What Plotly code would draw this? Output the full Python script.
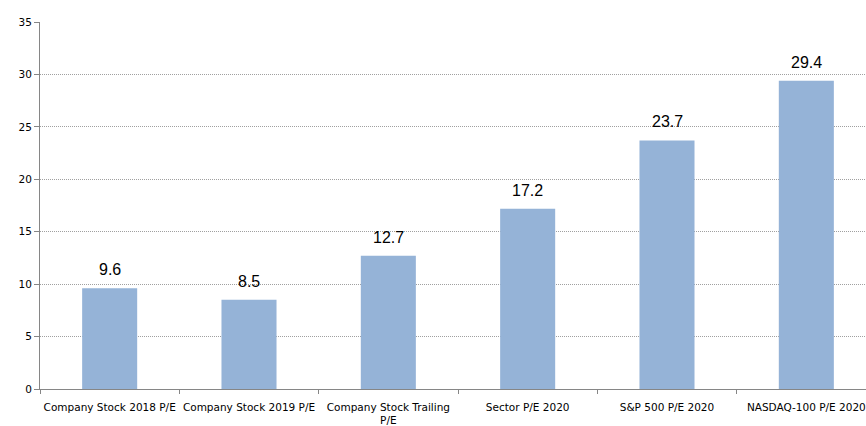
import plotly.graph_objects as go

categories = ["Company Stock 2018 P/E", "Company Stock 2019 P/E", "Company Stock Trailing<br>P/E",
              "Sector P/E 2020", "S&P 500 P/E 2020", "NASDAQ-100 P/E 2020"]
values = [9.6, 8.5, 12.7, 17.2, 23.7, 29.4]
value_labels = ["9.6", "8.5", "12.7", "17.2", "23.7", "29.4"]
y_ticks = [0, 5, 10, 15, 20, 25, 30, 35]

fig = go.Figure(go.Bar(
    x=categories, y=values,
    marker=dict(color="#95B3D7", line=dict(width=0)),
    width=0.395,
))

for c, v, t in zip(categories, values, value_labels):
    fig.add_annotation(x=c, y=v, text=t, showarrow=False, yanchor="bottom", yshift=8,
                       font=dict(size=16, color="#000000", family="Liberation Sans"))

fig.update_layout(
    width=866, height=426,
    margin=dict(l=40, r=0, t=22, b=37, autoexpand=False),
    paper_bgcolor="white", plot_bgcolor="white",
    showlegend=False,
    font=dict(family="DejaVu Sans", size=10, color="#000000"),
)
fig.update_xaxes(
    range=[-0.5, 5.5 - 10 / 139.4], automargin=False,
    showline=True, linecolor="#868686", linewidth=1,
    ticks="outside", tickson="boundaries", ticklen=4, tickcolor="#868686",
    tickfont=dict(size=10.5, color="#000000", family="DejaVu Sans"),
    tickangle=0, ticklabelstandoff=8,
    showgrid=False,
)
fig.update_yaxes(
    range=[0, 35], tickvals=y_ticks, automargin=False,
    showline=True, linecolor="#868686", linewidth=1,
    ticks="outside", ticklen=5, tickcolor="#868686",
    tickfont=dict(size=10.5, color="#000000", family="DejaVu Sans"),
    showgrid=True, gridcolor="#a0a0a0", griddash="1px,1px", gridwidth=1,
    zeroline=False,
)
fig.write_html("out.html", config={"displayModeBar": False},
               post_script="document.body.style.margin='0';document.body.style.overflow='hidden';")
